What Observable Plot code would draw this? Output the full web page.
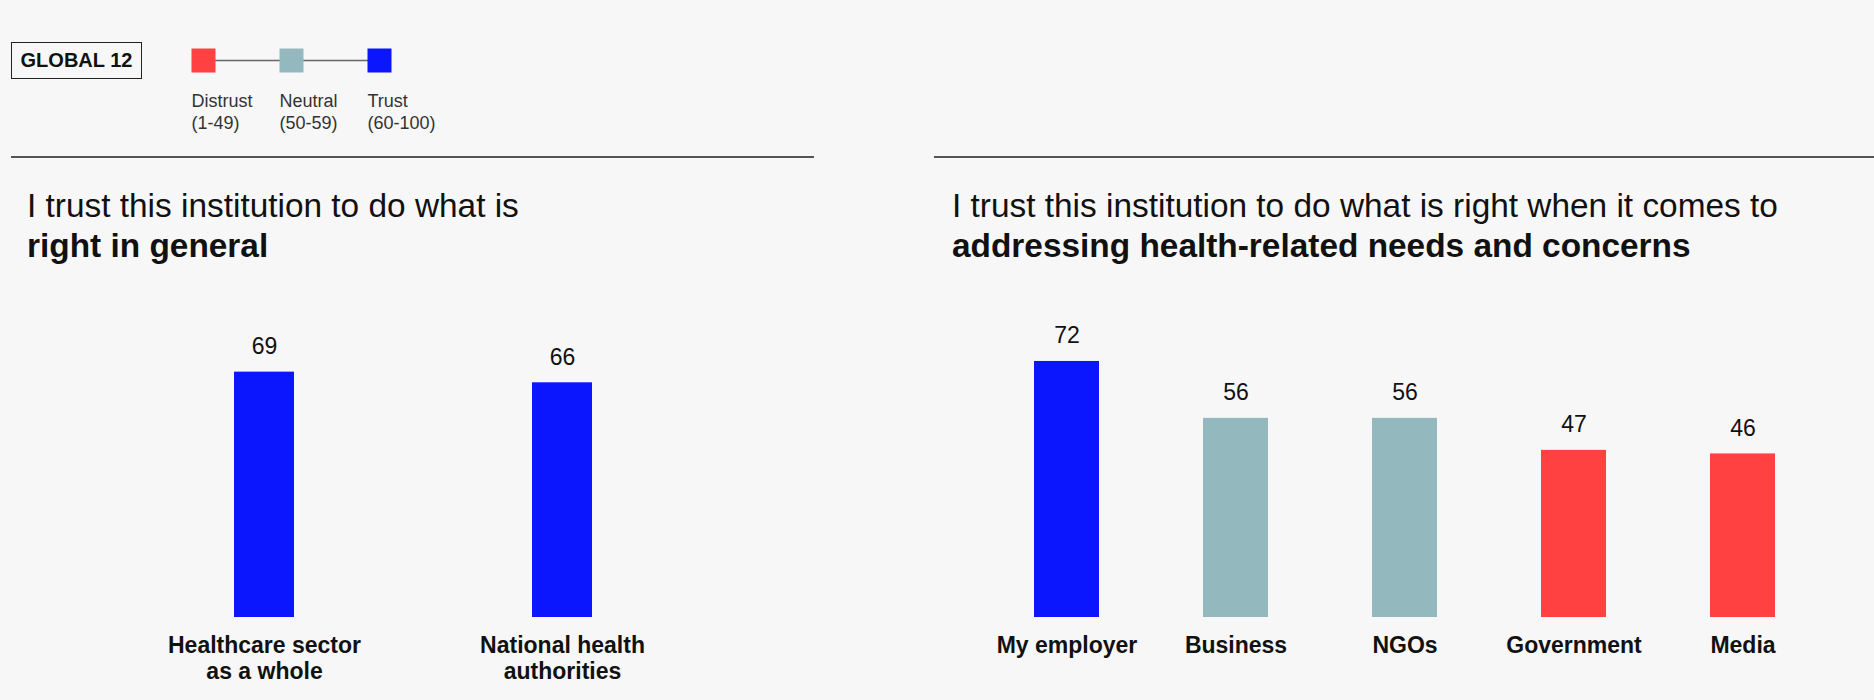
<!DOCTYPE html>
<html><head><meta charset="utf-8">
<script src="https://cdn.jsdelivr.net/npm/d3@7"></script>
<script src="https://cdn.jsdelivr.net/npm/@observablehq/plot@0.6"></script>
<style>
html,body{margin:0;padding:0;background:#f7f7f7;}
body{width:1874px;height:700px;position:relative;overflow:hidden;font-family:"Liberation Sans",Arial,Helvetica,sans-serif;color:#111;}
.abs{position:absolute;}
#badge{left:11px;top:42px;width:129px;height:35px;border:1.5px solid #222;font-weight:bold;font-size:20px;display:flex;align-items:center;justify-content:center;box-sizing:content-box;}
.rule{height:2px;background:#555;top:156px;}
.title{font-size:33.4px;line-height:40px;top:186px;white-space:nowrap;}
</style></head><body>
<div id="badge" class="abs">GLOBAL 12</div>
<div id="legend" class="abs" style="left:0;top:0"></div>
<div class="abs rule" style="left:11px;width:803px"></div>
<div class="abs rule" style="left:934px;width:940px"></div>
<div class="abs title" style="left:27px">I trust this institution to do what is<br><b>right in general</b></div>
<div class="abs title" style="left:952px">I trust this institution to do what is right when it comes to<br><b>addressing health-related needs and concerns</b></div>
<div id="left" class="abs" style="left:0;top:250px"></div>
<div id="right" class="abs" style="left:937px;top:250px"></div>
<script>
const legendNames = ["Distrust", "Neutral", "Trust"];
const legendRanges = ["(1-49)", "(50-59)", "(60-100)"];
const legendColors = ["#ff4141", "#93b9bf", "#0b16ff"];
const thresholds = [50, 60];

const generalCategories = ["Healthcare sector\nas a whole", "National health\nauthorities"];
const generalValues = [69, 66];

const healthCategories = ["My employer", "Business", "NGOs", "Government", "Media"];
const healthValues = [72, 56, 56, 47, 46];

const FONT = '"Liberation Sans", Arial, Helvetica, sans-serif';

const legendData = legendNames.map((n, i) => ({name: n, range: legendRanges[i], color: legendColors[i]}));
document.getElementById("legend").append(Plot.plot({
  width: 420, height: 140, margin: 0,
  style: {background: "transparent", fontFamily: FONT, overflow: "visible"},
  x: {type: "point", domain: legendNames, range: [202, 379], padding: 0, axis: null},
  y: {type: "identity", axis: null},
  color: {type: "identity"},
  marks: [
    Plot.line(legendData, {x: "name", y: () => 60, stroke: "#666", strokeWidth: 1.5}),
    Plot.dot(legendData, {x: "name", y: () => 60, symbol: "square", r: 13.54, fill: "color", stroke: null}),
    Plot.text(legendData, {x: "name", y: () => 92, text: d => d.name + "\n" + d.range, lineAnchor: "top", textAnchor: "start", dx: -12, fontSize: 18, lineHeight: 1.17, fill: "#333"})
  ]
}));

function barChart(cats, vals, o) {
  const data = cats.map((c, i) => ({cat: c, value: vals[i]}));
  return Plot.plot({
    width: 937, height: 450,
    marginTop: 11.4, marginBottom: 83, marginLeft: o.ml, marginRight: o.mr,
    style: {background: "transparent", fontFamily: FONT, color: "#111", overflow: "visible"},
    x: {domain: cats, paddingInner: o.pi, paddingOuter: 0.5, label: null, axis: null},
    y: {domain: [0, 100], axis: null},
    color: {type: "threshold", domain: thresholds, range: legendColors},
    marks: [
      Plot.barY(data, {x: "cat", y: "value", fill: "value"}),
      Plot.text(data, {x: "cat", y: "value", text: d => String(d.value), dy: -18, lineAnchor: "bottom", fontSize: 23, fill: "#111"}),
      Plot.axisX({tickSize: 0, tickPadding: 16.5, fontSize: 23, fontWeight: "bold", lineHeight: 1.15, label: null})
    ]
  });
}

document.getElementById("left").append(barChart(generalCategories, generalValues, {ml: 83.5, mr: 195.7, pi: 0.8}));
document.getElementById("right").append(barChart(healthCategories, healthValues, {ml: 11.2, mr: 12.3, pi: 0.614}));
</script>
</body></html>
